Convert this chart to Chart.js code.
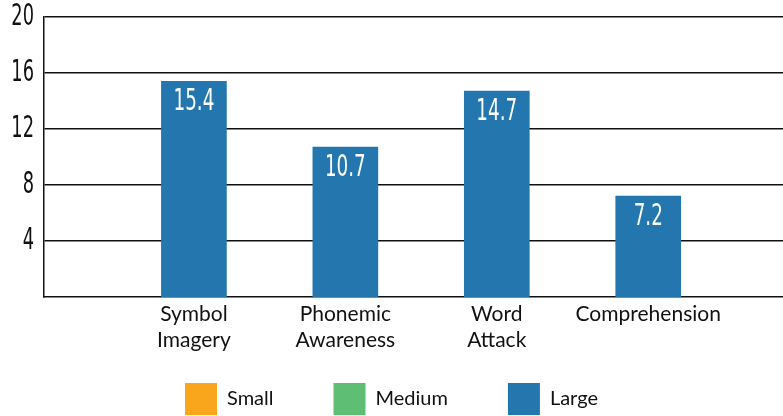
<!DOCTYPE html>
<html><head><meta charset="utf-8">
<script src="https://cdn.jsdelivr.net/npm/chart.js@4.4.1/dist/chart.umd.min.js"></script>
<style>html,body{margin:0;padding:0;background:#fff;}</style>
</head><body>
<canvas id="c" width="783" height="416" style="display:block;width:783px;height:416px"></canvas>
<script>
// ---- data ----
const categories = [['Symbol', 'Imagery'], ['Phonemic', 'Awareness'], ['Word', 'Attack'], ['Comprehension']];
const positions = [1, 2, 3, 4];
const smallValues = [];
const mediumValues = [];
const largeValues = [15.4, 10.7, 14.7, 7.2];
const seriesNames = ['Small', 'Medium', 'Large'];
const yTicks = [4, 8, 12, 16, 20];

// ---- styles ----
const colors = ['#F9A61C', '#5DBE74', '#2377AE'];
const ink = '#111';
const narrow = '"Liberation Sans Narrow", "DejaVu Sans Condensed", sans-serif';
const labelFamily = 'Lato, "Open Sans", sans-serif';
const LEGEND_BOX_TOP = 383;

const toPoints = vals => vals.map((v, i) => ({ x: positions[i], y: v }));

const helpers = {
  id: 'helpers',
  afterLayout(chart) {
    // squeeze the y tick labels horizontally (condensed look)
    const y = chart.scales.y;
    if (!y._condensed) {
      const orig = y.drawLabels.bind(y);
      y.drawLabels = function (area) {
        const ctx = this.ctx;
        const ax = this.right - this.options.ticks.padding;
        ctx.save();
        ctx.translate(ax, 0); ctx.scale(0.66, 1); ctx.translate(-ax, 0);
        orig(area);
        ctx.restore();
      };
      y._condensed = true;
    }
    // legend: wide horizontal spacing but sit close to the bottom
    const lg = chart.legend;
    lg.top = LEGEND_BOX_TOP - lg.options.labels.padding;
    lg.bottom = chart.height;
    lg.height = lg.bottom - lg.top;
  },
  afterDatasetsDraw(chart) {
    const ctx = chart.ctx;
    chart.data.datasets.forEach((ds, di) => {
      const meta = chart.getDatasetMeta(di);
      meta.data.forEach((bar, i) => {
        const v = ds.data[i].y;
        ctx.save();
        ctx.fillStyle = '#fff';
        ctx.font = '30px ' + narrow;
        ctx.textAlign = 'center';
        ctx.textBaseline = 'middle';
        ctx.translate(bar.x, bar.y + 21);
        ctx.scale(0.68, 1);
        ctx.fillText(v.toFixed(1), 0, 0);
        ctx.restore();
      });
    });
  }
};

new Chart(document.getElementById('c'), {
  type: 'bar',
  data: {
    datasets: [
      { label: seriesNames[0], data: toPoints(smallValues), backgroundColor: colors[0] },
      { label: seriesNames[1], data: toPoints(mediumValues), backgroundColor: colors[1] },
      { label: seriesNames[2], data: toPoints(largeValues), backgroundColor: colors[2] }
    ]
  },
  options: {
    responsive: false,
    animation: false,
    devicePixelRatio: 1,
    layout: { padding: { top: 17, right: 0, left: 0, bottom: -43 } },
    datasets: { bar: { grouped: false, barThickness: 65, borderWidth: 0 } },
    plugins: {
      tooltip: { enabled: false },
      legend: {
        position: 'bottom',
        labels: {
          boxWidth: 32, boxHeight: 32, padding: 60,
          color: ink, font: { family: labelFamily, size: 20 }
        }
      }
    },
    scales: {
      x: {
        type: 'linear', min: 0.01, max: 4.89, offset: false,
        grid: { display: false, drawTicks: false },
        border: { display: true, color: ink, width: 1.5 },
        afterBuildTicks: s => { s.ticks = positions.map(v => ({ value: v })); },
        afterFit: s => { s.height = 60; s.paddingLeft = 0; s.paddingRight = 0; },
        ticks: {
          autoSkip: false, maxRotation: 0, padding: 5, color: ink,
          font: { family: labelFamily, size: 21, lineHeight: 1.2 },
          callback: v => categories[positions.indexOf(v)]
        }
      },
      y: {
        min: 0, max: 20,
        afterBuildTicks: s => { s.ticks = yTicks.map(v => ({ value: v })); },
        afterFit: s => { s.width = 44; s.paddingTop = 0; s.paddingBottom = 0; },
        grid: { color: ink, lineWidth: 1.5, drawTicks: false },
        border: { display: true, color: ink, width: 1.5 },
        ticks: { padding: 10, color: ink, font: { family: narrow, size: 30 } }
      }
    }
  },
  plugins: [helpers]
});
</script>
</body></html>
